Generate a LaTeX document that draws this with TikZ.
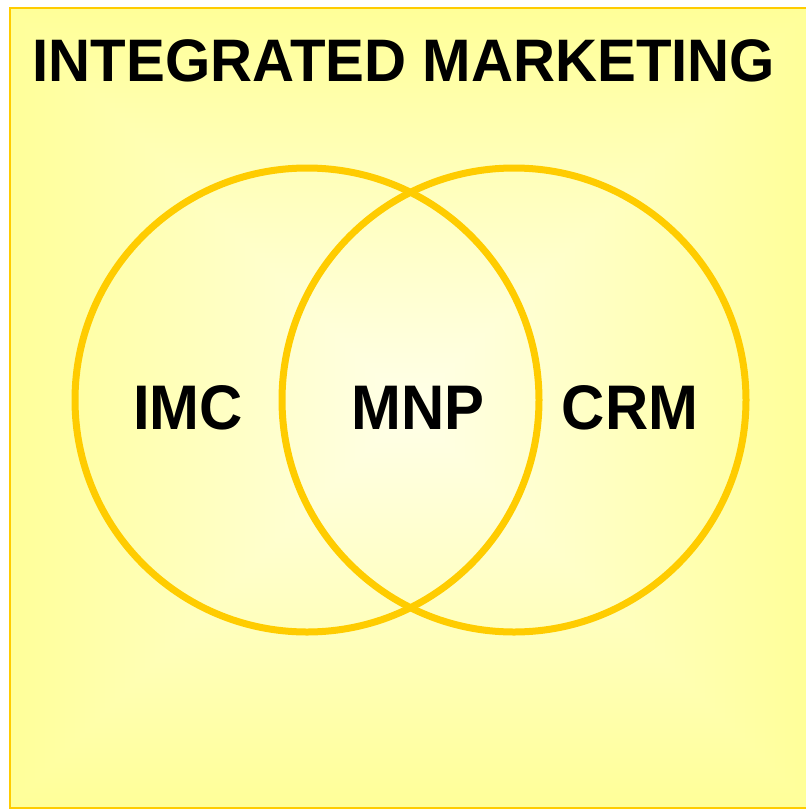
\documentclass[tikz,border=0pt]{standalone}
\usepackage{fontspec}
\setmainfont{Liberation Sans}
\usepackage{tikz}
\usepackage{xcolor}
\usetikzlibrary{calc}

\definecolor{bgouter}{HTML}{FFFF99}
\definecolor{bginner}{HTML}{FFFFE8}
\definecolor{ringgold}{HTML}{FFCC00}

\begin{document}
\begin{tikzpicture}[x=1pt,y=-1pt]

\tikzstyle{ring}=[
  circle,
  draw=ringgold,
  line width=7pt,
  minimum size=464pt,
  inner sep=0pt
]
\tikzstyle{label}=[
  anchor=base,
  inner sep=0pt,
  xscale=0.95,
  font=\bfseries\fontsize{63}{63}\selectfont
]

\useasboundingbox (0,0) rectangle (806,809);
\clip (0,0) rectangle (806,809);

% Background square, lighter towards the middle
\coordinate (mid) at (410,408);
\foreach \i in {0,...,79} {
  \pgfmathsetmacro\half{400-5*\i}
  \pgfmathsetmacro\mix{100*\i/79}
  \fill[bginner!\mix!bgouter] ($(mid)+(-\half,-\half)$) rectangle ($(mid)+(\half,\half)$);
}
\draw[ringgold, line width=1.5pt] (10,8) rectangle (812,808);

\node[anchor=base, inner sep=0pt, xscale=0.97,
  font=\bfseries\fontsize{60}{60}\selectfont] (title) at (404,81)
{INTEGRATED MARKETING};

% The two overlapping circles
\node[ring] (ringL) at (307,400) {};
\node[ring] (ringR) at (514,400) {};

\node[label] (imc) at (188,429) {IMC};
\node[label] (mnp) at (418,429) {MNP};
\node[label] (crm) at (630,429) {CRM};

\end{tikzpicture}
\end{document}
